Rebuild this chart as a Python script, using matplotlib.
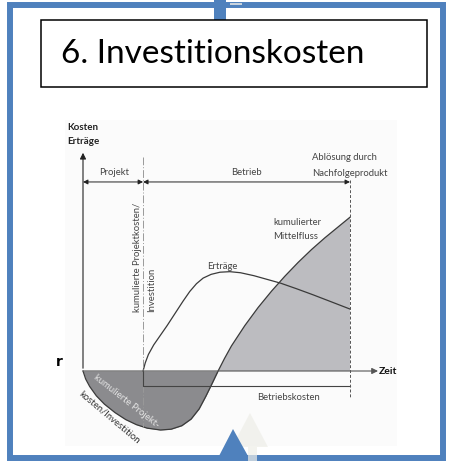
import numpy as np
import matplotlib.pyplot as plt
from matplotlib.patches import Rectangle, Polygon

W, H = 452, 461
BLUE = '#4f81bd'
FONT = 'Lato'

# diagram data (time units, value units; zero = time axis)
t_cum = [0, 0.1, 0.25, 0.5, 0.8, 1.2, 1.6, 2.0, 2.4, 2.9, 3.3, 3.7, 4.05, 4.35,
         4.6, 4.84, 5.06, 5.3, 5.56, 6.06, 6.56, 7.06, 7.56, 8.06, 8.56, 9.06,
         9.56, 10.0]
v_cum = [0, -0.30, -0.58, -0.93, -1.24, -1.56, -1.82, -2.01, -2.14, -2.21, -2.18,
         -2.05, -1.80, -1.42, -0.95, -0.46, 0, 0.47, 0.94, 1.70, 2.38, 2.99, 3.55,
         4.07, 4.55, 4.99, 5.40, 5.76]
t_ertrag = [2.25, 2.33, 2.45, 2.65, 2.90, 3.15, 3.45, 3.75, 4.00, 4.25, 4.50, 4.80,
            5.13, 5.50, 5.90, 6.40, 6.90, 7.40, 8.00, 8.60, 9.25, 10.0]
v_ertrag = [0, 0.30, 0.62, 0.98, 1.34, 1.70, 2.16, 2.62, 2.98, 3.27, 3.48, 3.62,
            3.70, 3.72, 3.68, 3.57, 3.43, 3.29, 3.08, 2.86, 2.61, 2.32]
t_betrieb = 2.25       # Start Betrieb
t_ende = 10.0          # Ablösung
v_betriebskosten = -0.56
v_phase = 7.08

# pixel scale of the inner diagram
s = 26.7
x0, y0 = 83, 371

def px(x, y):
    return (x - x0) / s, (y0 - y) / s

fig = plt.figure(figsize=(W / 100, H / 100), dpi=100)

# slide frame in pixel coords
bg = fig.add_axes([0, 0, 1, 1])
bg.set_xlim(0, W)
bg.set_ylim(H, 0)
bg.axis('off')
bg.add_patch(Rectangle((65, 120), 332, 326, fc='#fbfbfb', ec='none', zorder=0))
bg.add_patch(Rectangle((10, 5.5), 433, 452.5, fill=False, ec=BLUE, lw=4.3, zorder=2))
bg.add_patch(Rectangle((214, 0), 12, 20, fc=BLUE, ec='none', zorder=3))
bg.add_patch(Rectangle((230, 3), 12, 2.5, fc='#c9d3dd', ec='none', zorder=3))
bg.add_patch(Rectangle((41, 20), 386, 67, fc='white', ec='black', lw=1.1, zorder=4))
bg.text(61, 54, '6. Investitionskosten', fontsize=24, family=FONT,
        ha='left', va='center', zorder=5)
bg.text(59, 362, 'r', fontsize=10, fontweight='bold', family='DejaVu Sans',
        ha='center', va='center')
bg.add_patch(Polygon([(250, 413), (268, 447), (257, 447), (257, 461), (248, 461),
                      (248, 447), (232, 447)], closed=True, fc='#eeeee8', ec='none',
                     alpha=0.7, zorder=3))
bg.add_patch(Polygon([(233, 429), (219, 456), (248, 456)], closed=True,
                     fc=BLUE, ec='none', zorder=4))

# inner diagram
ax = fig.add_axes([65 / W, (H - 446) / H, 335 / W, 326 / H])
ax.set_xlim((65 - x0) / s, (400 - x0) / s)
ax.set_ylim((y0 - 446) / s, (y0 - 120) / s)
ax.axis('off')

tc = np.array(t_cum)
vc = np.array(v_cum)
ax.fill_between(tc, vc, 0, where=vc <= 0, interpolate=True, color='#8b8b8e', lw=0)
ax.fill_between(tc, vc, 0, where=vc >= 0, interpolate=True, color='#bcbcc0', lw=0)
ax.plot(tc, vc, color='#3a3a3a', lw=0.9, solid_joinstyle='round')
ax.plot(t_ertrag, v_ertrag, color='#3a3a3a', lw=0.9, solid_joinstyle='round')

# axes
ax.annotate('', xy=px(83, 150), xytext=(0, 0),
            arrowprops=dict(arrowstyle='-|>', color='#222', lw=0.8, mutation_scale=9))
ax.annotate('', xy=px(378, 371), xytext=(0, 0),
            arrowprops=dict(arrowstyle='-|>', color='#555', lw=0.8, mutation_scale=9,
                            shrinkA=0, shrinkB=0))

# phase arrows
for a, b in [(0, t_betrieb), (t_betrieb, t_ende)]:
    ax.annotate('', xy=(b, v_phase), xytext=(a, v_phase),
                arrowprops=dict(arrowstyle='<|-|>', color='#222', lw=0.7,
                                mutation_scale=7, shrinkA=0, shrinkB=0))

# guide lines
ax.plot([t_betrieb, t_betrieb], [px(0, 157)[1], -2.10], color='#999',
        lw=0.7, ls=(0, (8, 2, 1, 2)))
ax.plot([t_betrieb, t_betrieb, t_ende], [0, v_betriebskosten, v_betriebskosten],
        color='#444', lw=0.8)
ax.plot([t_ende, t_ende], [px(0, 180)[1], px(0, 398)[1]], color='#555',
        lw=0.7, ls=(0, (3, 2)))

# labels
tk = dict(family=FONT, fontsize=6.8, color='#444')
ax.text(*px(67, 127), 'Kosten', ha='left', va='center', family=FONT,
        fontsize=7, fontweight='bold', color='#222')
ax.text(*px(67, 141), 'Erträge', ha='left', va='center', family=FONT,
        fontsize=7, fontweight='bold', color='#222')
ax.text(*px(114, 172), 'Projekt', ha='center', va='center', **tk)
ax.text(*px(246, 172), 'Betrieb', ha='center', va='center', **tk)
ax.text(*px(312, 157), 'Ablösung durch', ha='left', va='center', **tk)
ax.text(*px(312, 173), 'Nachfolgeprodukt', ha='left', va='center', **tk)
ax.text(*px(273, 222), 'kumulierter', ha='left', va='center', **tk)
ax.text(*px(273, 236), 'Mittelfluss', ha='left', va='center', **tk)
ax.text(*px(222, 266), 'Erträge', ha='center', va='center', **tk)
ax.text(*px(138, 312), 'kumulierte Projektkosten/', rotation=90,
        ha='center', va='bottom', **tk)
ax.text(*px(152, 312), 'Investition', rotation=90, ha='center', va='bottom', **tk)
ax.text(*px(289, 397), 'Betriebskosten', ha='center', va='center', **tk)
ax.text(*px(379, 371), 'Zeit', ha='left', va='center', family=FONT,
        fontsize=7.5, fontweight='bold', color='#111')
ax.text(*px(126, 401), 'kumulierte Projekt-', rotation=-38, rotation_mode='anchor',
        ha='center', va='center', family=FONT, fontsize=6.8, color='#e4e4e4')
ax.text(*px(110, 417), 'kosten/Investition', rotation=-40, rotation_mode='anchor',
        ha='center', va='center', family=FONT, fontsize=6.8, color='#333')

fig.savefig('out.png', dpi=100)
